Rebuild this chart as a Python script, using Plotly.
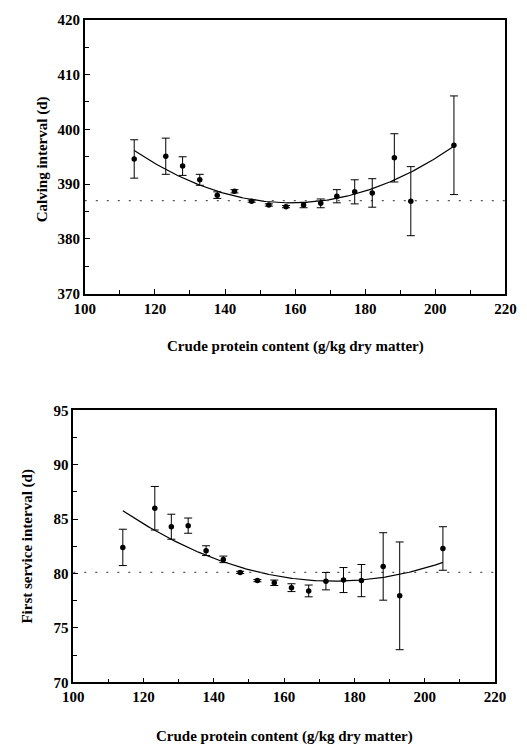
import numpy as np
import plotly.graph_objects as go

# ---- data: calving interval (top panel)
cp_top = [114.1, 123.1, 127.9, 132.8, 137.8, 142.7, 147.6, 152.5, 157.4, 162.4, 167.3, 171.9, 177.0, 182.0, 188.3, 193.0, 205.3]
calving = [394.6, 395.1, 393.3, 390.8, 388.0, 388.7, 386.9, 386.2, 385.9, 386.2, 386.5, 387.8, 388.6, 388.4, 394.8, 386.9, 397.1]
calving_se = [3.5, 3.3, 1.7, 1.0, 0.6, 0.3, 0.2, 0.2, 0.2, 0.5, 0.8, 1.2, 2.2, 2.6, 4.4, 6.3, 9.0]
calving_mean = 387.0
calving_fit = dict(vertex_x=158.8, vertex_y=386.6, a=0.00478)

# ---- data: first service interval (bottom panel)
cp_bot = [114.1, 123.2, 127.9, 132.7, 137.8, 142.7, 147.5, 152.4, 157.2, 162.1, 167.0, 171.9, 176.9, 182.0, 188.2, 192.9, 205.2]
first_service = [82.4, 86.0, 84.3, 84.4, 82.1, 81.3, 80.1, 79.35, 79.15, 78.7, 78.4, 79.3, 79.4, 79.35, 80.65, 77.95, 82.3]
first_service_se = [1.67, 2.0, 1.15, 0.7, 0.45, 0.3, 0.1, 0.1, 0.25, 0.36, 0.54, 0.8, 1.15, 1.48, 3.1, 4.95, 2.0]
first_service_mean = 80.1
first_service_fit = dict(vertex_x=174.2, vertex_y=79.3, a=0.00179)

x_ticks = [100, 120, 140, 160, 180, 200, 220]

W, H = 527, 753
FONT = "Liberation Serif"

def fit_curve(xs, p):
    xs = np.asarray(xs, dtype=float)
    return p["vertex_y"] + p["a"] * (xs - p["vertex_x"]) ** 2

fig = go.Figure()

panels = [
    (cp_top, calving, calving_se, calving_mean, calving_fit, "x", "y"),
    (cp_bot, first_service, first_service_se, first_service_mean, first_service_fit, "x2", "y2"),
]
for xs, ys, se, mean, fit, xa, ya in panels:
    xc = np.linspace(min(xs), max(xs), 200)
    fig.add_trace(go.Scatter(x=xc, y=fit_curve(xc, fit), mode="lines",
                             line=dict(color="black", width=1.2),
                             xaxis=xa, yaxis=ya, showlegend=False, hoverinfo="skip"))
    fig.add_trace(go.Scatter(x=[100, 220], y=[mean, mean], mode="lines",
                             line=dict(color="#555", width=1.3, dash="2px,9px"),
                             xaxis=xa, yaxis=ya, showlegend=False, hoverinfo="skip"))
    fig.add_trace(go.Scatter(x=xs, y=ys, mode="markers",
                             marker=dict(color="black", size=5.5),
                             error_y=dict(type="data", array=se, visible=True,
                                          color="black", thickness=1, width=4),
                             xaxis=xa, yaxis=ya, showlegend=False))

tickfont = dict(family=FONT, size=15, color="black", weight="bold")
axis_common = dict(showgrid=False, zeroline=False, showline=True, linecolor="black",
                   linewidth=1.6, mirror=True, ticks="inside", ticklen=5,
                   tickwidth=1.3, tickcolor="black", tickfont=tickfont)
xcommon = dict(axis_common, range=[100, 220], tickvals=x_ticks,
               minor=dict(dtick=10, ticks="inside", ticklen=4, tickwidth=1.2, tickcolor="black"))

fig.update_layout(
    width=W, height=H, margin=dict(l=0, r=0, t=0, b=0),
    paper_bgcolor="white", plot_bgcolor="white",
    xaxis=dict(xcommon, domain=[77 / W, 516 / W], anchor="y"),
    yaxis=dict(axis_common, domain=[1 - 292 / H, 1 - 12 / H], anchor="x",
               range=[370, 420], dtick=10,
               minor=dict(dtick=5, ticks="inside", ticklen=4, tickwidth=1.2, tickcolor="black")),
    xaxis2=dict(xcommon, domain=[65 / W, 505 / W], anchor="y2"),
    yaxis2=dict(axis_common, domain=[1 - 689 / H, 1 - 411 / H], anchor="x2",
                range=[70, 95], dtick=5,
                minor=dict(dtick=2.5, ticks="inside", ticklen=4, tickwidth=1.2, tickcolor="black")),
)

titlefont = dict(family=FONT, size=15, color="black", weight="bold")
ann = [
    dict(text="Crude protein content (g/kg dry matter)", x=(77 + 516) / 2 / W, y=1 - 346 / H, textangle=0),
    dict(text="Calving interval (d)", x=33 / W, y=1 - 155 / H, textangle=-90),
    dict(text="Crude protein content (g/kg dry matter)", x=(65 + 505) / 2 / W, y=1 - 744 / H, textangle=0),
    dict(text="First service interval (d)", x=17 / W, y=1 - 550 / H, textangle=-90),
]
for a in ann:
    fig.add_annotation(xref="paper", yref="paper", showarrow=False,
                       xanchor="center", yanchor="middle", font=titlefont, **a)

fig.write_html("out.html")
